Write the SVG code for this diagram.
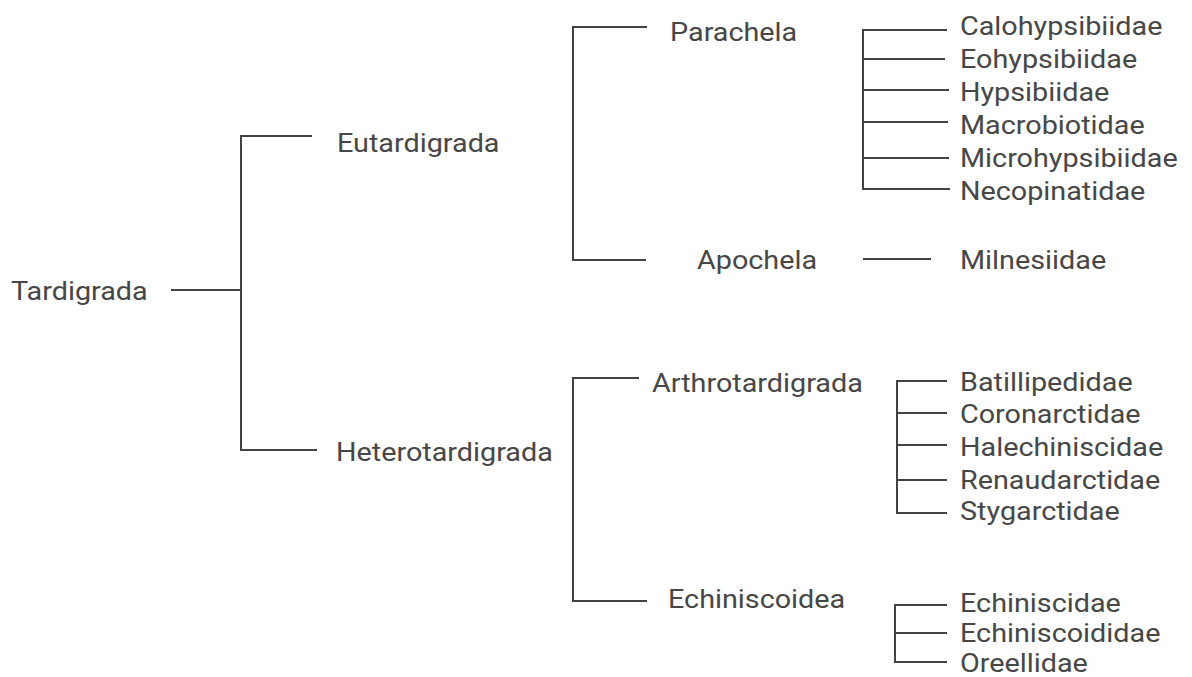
<svg xmlns="http://www.w3.org/2000/svg" width="1192" height="677" viewBox="0 0 1192 677">
  <style>
    text { font-family: Roboto, "Liberation Sans", sans-serif; font-size: 25.5px; fill: #474747; }
    .edge { fill: none; stroke: #424242; stroke-width: 2; }
  </style>
  <rect width="1192" height="677" fill="#ffffff"/>

  <!-- tree connectors -->
  <g id="connectors" class="edge">
    <!-- root -->
    <path d="M171 290 H241"/>
    <path d="M312 136 H241 V450 H317"/>
    <!-- Eutardigrada -->
    <path d="M647 27 H573 V260 H646"/>
    <!-- Parachela families -->
    <path d="M947 30 H863 V189 H950"/>
    <path d="M863 59 H945"/>
    <path d="M863 90 H949"/>
    <path d="M863 122 H948"/>
    <path d="M863 158 H949"/>
    <!-- Apochela -->
    <path d="M863 259 H931"/>
    <!-- Heterotardigrada -->
    <path d="M639 378 H573 V601 H647"/>
    <!-- Arthrotardigrada families -->
    <path d="M947 381 H897 V513 H947"/>
    <path d="M897 413 H947"/>
    <path d="M897 445 H947"/>
    <path d="M897 480 H947"/>
    <!-- Echiniscoidea families -->
    <path d="M947 605 H895 V662 H947"/>
    <path d="M895 633 H947"/>
  </g>

  <!-- labels are set slightly wide: each group places its baseline origin and stretches x -->
  <!-- ranks -->
  <g id="tardigrada" transform="translate(11 300) scale(1.128 1)"><text>Tardigrada</text></g>
  <g id="eutardigrada" transform="translate(337 152) scale(1.128 1)"><text>Eutardigrada</text></g>
  <g id="heterotardigrada" transform="translate(336 461) scale(1.128 1)"><text>Heterotardigrada</text></g>
  <g id="parachela" transform="translate(670 41) scale(1.128 1)"><text>Parachela</text></g>
  <g id="apochela" transform="translate(697 269) scale(1.128 1)"><text>Apochela</text></g>
  <g id="arthrotardigrada" transform="translate(652 392) scale(1.128 1)"><text>Arthrotardigrada</text></g>
  <g id="echiniscoidea" transform="translate(668 608) scale(1.128 1)"><text>Echiniscoidea</text></g>

  <!-- families -->
  <g id="calohypsibiidae" transform="translate(960 35) scale(1.128 1)"><text>Calohypsibiidae</text></g>
  <g id="eohypsibiidae" transform="translate(960 68) scale(1.128 1)"><text>Eohypsibiidae</text></g>
  <g id="hypsibiidae" transform="translate(960 101) scale(1.128 1)"><text>Hypsibiidae</text></g>
  <g id="macrobiotidae" transform="translate(960 134) scale(1.128 1)"><text>Macrobiotidae</text></g>
  <g id="microhypsibiidae" transform="translate(960 167) scale(1.128 1)"><text>Microhypsibiidae</text></g>
  <g id="necopinatidae" transform="translate(960 200) scale(1.128 1)"><text>Necopinatidae</text></g>
  <g id="milnesiidae" transform="translate(960 269) scale(1.128 1)"><text>Milnesiidae</text></g>
  <g id="batillipedidae" transform="translate(960 391) scale(1.128 1)"><text>Batillipedidae</text></g>
  <g id="coronarctidae" transform="translate(960 423) scale(1.128 1)"><text>Coronarctidae</text></g>
  <g id="halechiniscidae" transform="translate(960 456) scale(1.128 1)"><text>Halechiniscidae</text></g>
  <g id="renaudarctidae" transform="translate(960 489) scale(1.128 1)"><text>Renaudarctidae</text></g>
  <g id="stygarctidae" transform="translate(960 520) scale(1.128 1)"><text>Stygarctidae</text></g>
  <g id="echiniscidae" transform="translate(960 612) scale(1.128 1)"><text>Echiniscidae</text></g>
  <g id="echiniscoididae" transform="translate(960 642) scale(1.128 1)"><text>Echiniscoididae</text></g>
  <g id="oreellidae" transform="translate(960 672) scale(1.128 1)"><text>Oreellidae</text></g>
</svg>
